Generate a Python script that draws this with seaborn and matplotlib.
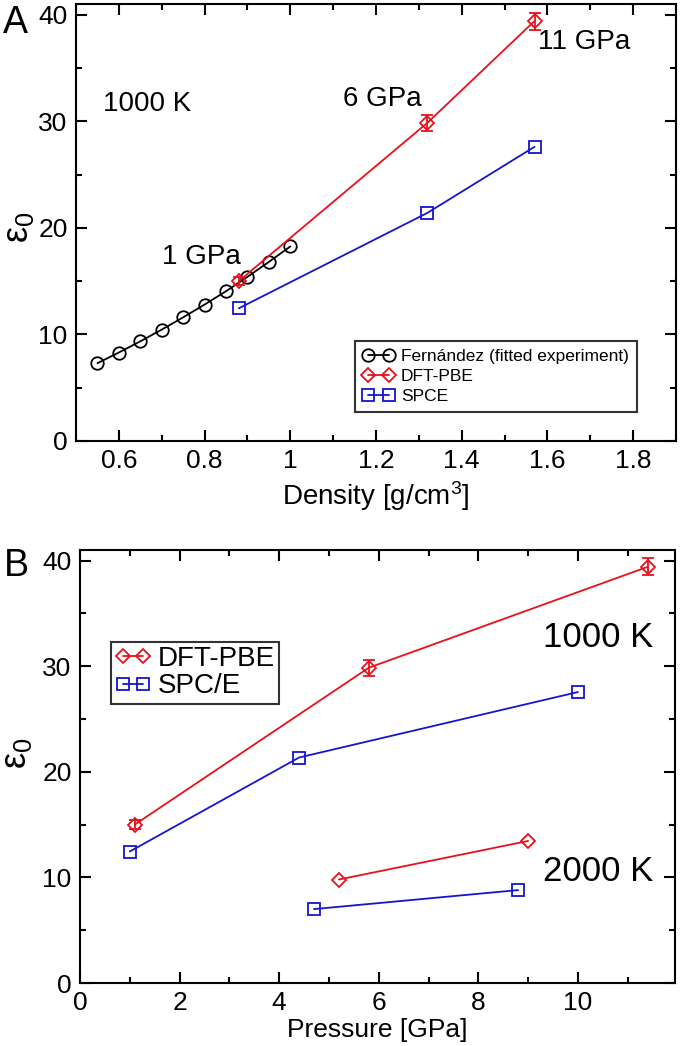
import matplotlib
matplotlib.use("Agg")
import numpy as np
import pandas as pd
import seaborn as sns
import matplotlib.pyplot as plt
from matplotlib.ticker import MultipleLocator

# panel A: dielectric constant vs density at 1000 K
fern_rho = [0.55, 0.60, 0.65, 0.70, 0.75, 0.80, 0.85, 0.90, 0.95, 1.00]
fern_eps = [7.3, 8.3, 9.35, 10.45, 11.6, 12.8, 14.05, 15.4, 16.8, 18.25]
dft_rho = [0.88, 1.32, 1.57]
dft_eps = [15.0, 29.85, 39.4]
dft_err = [0.4, 0.75, 0.8]
spce_rho = [0.88, 1.32, 1.57]
spce_eps = [12.45, 21.4, 27.6]

# panel B: dielectric constant vs pressure
dft_p_1000 = [1.1, 5.8, 11.4]
dft_eps_1000 = [15.0, 29.85, 39.4]
dft_err_1000 = [0.4, 0.75, 0.8]
spce_p_1000 = [1.0, 4.4, 10.0]
spce_eps_1000 = [12.45, 21.35, 27.55]
dft_p_2000 = [5.2, 9.0]
dft_eps_2000 = [9.8, 13.45]
spce_p_2000 = [4.7, 8.8]
spce_eps_2000 = [7.0, 8.8]

sns.set_style("ticks")
plt.rcParams["font.family"] = ["Liberation Sans", "DejaVu Sans"]
plt.rcParams["mathtext.fontset"] = "custom"
plt.rcParams["mathtext.rm"] = "Liberation Sans"
plt.rcParams["mathtext.it"] = "Liberation Sans"
for k in ["text.color", "axes.labelcolor", "xtick.color", "ytick.color",
          "axes.edgecolor"]:
    plt.rcParams[k] = "black"
plt.rcParams["xtick.direction"] = "in"
plt.rcParams["ytick.direction"] = "in"
plt.rcParams["xtick.top"] = True
plt.rcParams["ytick.right"] = True
plt.rcParams["axes.linewidth"] = 1.5
plt.rcParams["legend.numpoints"] = 2

RED = "#e8101a"
BLUE = "#1515d0"


def series(ax, x, y, color, marker, ms, label=None):
    df = pd.DataFrame({"x": x, "y": y})
    sns.lineplot(data=df, x="x", y="y", ax=ax, color=color, marker=marker,
                 markersize=ms, markerfacecolor="none", markeredgecolor=color,
                 markeredgewidth=1.3, linewidth=1.3, sort=False,
                 estimator=None, label=label, legend=False)


def style_axis(ax, xmaj, xmin):
    ax.xaxis.set_major_locator(MultipleLocator(xmaj))
    ax.xaxis.set_minor_locator(MultipleLocator(xmin))
    ax.yaxis.set_major_locator(MultipleLocator(10))
    ax.yaxis.set_minor_locator(MultipleLocator(5))
    ax.tick_params(which="major", length=8, width=1.5, labelsize=19, pad=6,
                   top=True, right=True)
    ax.tick_params(which="minor", length=4, width=1.5, top=True, right=True)
    for s in ax.spines.values():
        s.set_visible(True)
        s.set_color("black")


fig = plt.figure(figsize=(6.8, 10.46), dpi=100)
axA = fig.add_axes([0.1118, 0.5784, 0.8822, 0.4178])
axB = fig.add_axes([0.1176, 0.0602, 0.875, 0.414])

# ---- panel A
series(axA, fern_rho, fern_eps, "black", "o", 9, "Fernández (fitted experiment)")
series(axA, dft_rho, dft_eps, RED, "D", 7.5, "DFT-PBE")
axA.errorbar(dft_rho, dft_eps, yerr=dft_err, fmt="none", ecolor=RED,
             elinewidth=1.3, capsize=4, capthick=1.3)
series(axA, spce_rho, spce_eps, BLUE, "s", 8.5, "SPCE")
axA.set_xlim(0.5, 1.9)
axA.set_ylim(0, 41)
style_axis(axA, 0.2, 0.1)
axA.set_xticks([0.6, 0.8, 1.0, 1.2, 1.4, 1.6, 1.8])
axA.set_xticklabels(["0.6", "0.8", "1", "1.2", "1.4", "1.6", "1.8"])
axA.set_xlabel("Density [g/cm$^3$]", fontsize=20, labelpad=4)
axA.set_ylabel(r"$\mathrm{\varepsilon}_0$", fontsize=26, labelpad=0)
axA.yaxis.set_label_coords(-0.067, 0.49)
axA.text(0.562, 31.6, "1000 K", fontsize=20, va="center")
axA.text(0.70, 17.3, "1 GPa", fontsize=20, va="center")
axA.text(1.124, 32.1, "6 GPa", fontsize=20, va="center")
axA.text(1.578, 37.4, "11 GPa", fontsize=20, va="center")
legA = axA.legend(loc="lower left", bbox_to_anchor=(0.465, 0.066),
                  borderaxespad=0, fontsize=12.5, frameon=True, fancybox=False,
                  edgecolor="black", handlelength=1.8, handletextpad=0.4,
                  borderpad=0.45, labelspacing=0.3)
legA.get_frame().set_linewidth(1.5)

# ---- panel B
series(axB, dft_p_1000, dft_eps_1000, RED, "D", 7.5, "DFT-PBE")
axB.errorbar(dft_p_1000, dft_eps_1000, yerr=dft_err_1000, fmt="none", ecolor=RED,
             elinewidth=1.3, capsize=4, capthick=1.3)
series(axB, spce_p_1000, spce_eps_1000, BLUE, "s", 8.5, "SPC/E")
series(axB, dft_p_2000, dft_eps_2000, RED, "D", 7.5)
series(axB, spce_p_2000, spce_eps_2000, BLUE, "s", 8.5)
axB.set_xlim(0, 11.95)
axB.set_ylim(0, 41)
style_axis(axB, 2, 1)
axB.set_xlabel("Pressure [GPa]", fontsize=19, labelpad=2)
axB.set_ylabel(r"$\mathrm{\varepsilon}_0$", fontsize=26, labelpad=0)
axB.yaxis.set_label_coords(-0.078, 0.53)
axB.text(9.3, 32.7, "1000 K", fontsize=25, va="center")
axB.text(9.3, 10.6, "2000 K", fontsize=25, va="center")
h, l = axB.get_legend_handles_labels()
legB = axB.legend(h[:2], l[:2], loc="upper left", bbox_to_anchor=(0.052, 0.788),
                  borderaxespad=0, fontsize=20, frameon=True, fancybox=False,
                  edgecolor="black", handlelength=1.3, handletextpad=0.25,
                  borderpad=0.15, labelspacing=0.05)
legB.get_frame().set_linewidth(1.5)

fig.text(0.005, 0.995, "A", fontsize=27, va="top")
fig.text(0.005, 0.476, "B", fontsize=27, va="top")

fig.savefig("out.png", dpi=100)
